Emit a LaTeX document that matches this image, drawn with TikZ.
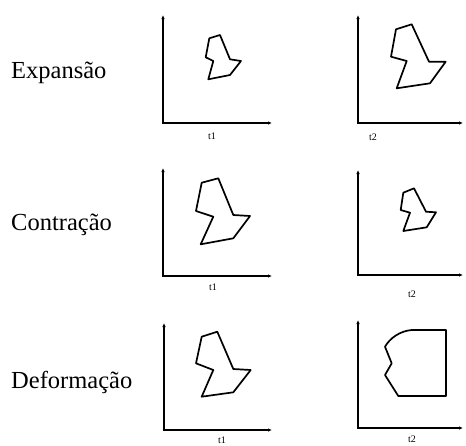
\documentclass[tikz,border=0pt]{standalone}
\usepackage{fontspec}
\setmainfont{Liberation Serif}
\usetikzlibrary{arrows.meta}
\begin{document}
\begin{tikzpicture}[x=1pt,y=-1pt,
  axis/.style={line width=1.4pt,{Latex[length=4pt,width=3.5pt]}-{Latex[length=4pt,width=3.5pt]}},
  blob/.style={line width=1.7pt,line join=round},
  rowlab/.style={anchor=base west,inner sep=0pt,font=\fontsize{24.5}{28}\selectfont},
  tlab/.style={inner sep=0pt,font=\fontsize{10}{11}\selectfont}]
\useasboundingbox (0,0) rectangle (466,445);
% row labels
\node[rowlab] (l1) at (11,78) {Expansão};
\node[rowlab] (l2) at (11,230) {Contração};
\node[rowlab] (l3) at (11,388) {Deformação};
% axes
\draw[axis] (163,15) |- (272,123);
\draw[axis] (358,15) |- (463,123);
\draw[axis] (163,168) |- (272,276);
\draw[axis] (358,170) |- (463,275);
\draw[axis] (164,323) |- (272,430);
\draw[axis] (358,320) |- (463,428);
% axis labels
\node[tlab] (a1) at (212,136) {t1};
\node[tlab] (a2) at (373,137) {t2};
\node[tlab] (a3) at (213,287) {t1};
\node[tlab] (a4) at (412,294) {t2};
\node[tlab] (a5) at (222,440) {t1};
\node[tlab] (a6) at (412,439) {t2};
% shapes
\draw[blob] (209.3,38.3) -- (220,35) -- (230,59.3) -- (241,61) -- (230,75) -- (208.3,79.3) -- (213.3,61) -- (205.7,57.3) -- cycle;
\draw[blob] (396,29.3) -- (411.7,24.3) -- (429,61.7) -- (445.7,61.7) -- (430,83.3) -- (396.7,88.3) -- (406.7,61) -- (391,56.7) -- cycle;
\draw[blob] (201.7,182.7) -- (218.3,178.3) -- (233.3,215) -- (250,216) -- (233.3,238.3) -- (200.7,244.3) -- (213.3,216.7) -- (196,211) -- cycle;
\draw[blob] (403.3,192.7) -- (414,188.3) -- (426,211.7) -- (436,212.3) -- (426.7,227.3) -- (403.3,231) -- (410,212.7) -- (400.7,210) -- cycle;
\draw[blob] (201.7,336.7) -- (217.3,331.7) -- (233.3,369) -- (250.7,370) -- (233.3,392.3) -- (201.7,396.7) -- (213.3,370) -- (196,363.3) -- cycle;
\draw[blob] (411.7,330) .. controls (400,331) and (390,338) .. (385,346.7) -- (391.7,363.3) -- (385,375) -- (398.3,396) -- (446,396) -- (446,330) -- cycle;
\end{tikzpicture}
\end{document}
